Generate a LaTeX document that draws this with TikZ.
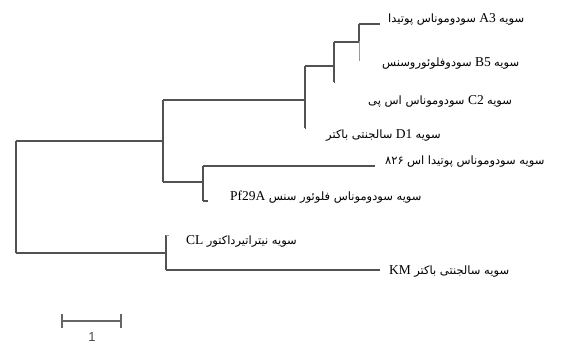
\documentclass[tikz,border=0pt]{standalone}
\usepackage{fontspec}
\setmainfont{Liberation Serif}
\setsansfont{Liberation Sans}
\newfontfamily\arabicfont[Script=Arabic]{DejaVu Sans}
\TeXXeTstate=1
\newcommand{\fa}[1]{{\arabicfont\fontsize{11.5}{13}\selectfont #1}}
\begin{document}
\begin{tikzpicture}[x=1pt,y=-1pt,
  br/.style={draw=black!68,line width=1.4pt},
  faint/.style={draw=black!40,line width=0.9pt},
  lbl/.style={anchor=west,inner sep=0pt,font=\fontsize{13.5}{15}\selectfont,text=black},
  sbar/.style={draw=black!60,line width=1.4pt}]
\useasboundingbox (0,0) rectangle (573,345);
% internal nodes
\coordinate (r1) at (16,141);   \coordinate (r2) at (16,253);
\coordinate (a1) at (163,100);  \coordinate (a2) at (163,182); \coordinate (am) at (163,141);
\coordinate (b1) at (305,66);   \coordinate (b2) at (305,128); \coordinate (bm) at (305,100);
\coordinate (c1) at (334,42);   \coordinate (c2) at (334,82);  \coordinate (cm) at (334,66);
\coordinate (d1) at (359,24);   \coordinate (d2) at (359,41);  \coordinate (d3) at (359,60); \coordinate (dm) at (359,42);
\coordinate (e1) at (203,166);  \coordinate (e2) at (203,201); \coordinate (em) at (203,182);
\coordinate (f1) at (166,235);  \coordinate (f2) at (166,270); \coordinate (fm) at (166,253);
% leaves
\coordinate (lA3) at (380,24);
\coordinate (lB5) at (360,60);
\coordinate (lC2) at (335,82);
\coordinate (lD1) at (306,128);
\coordinate (l826) at (375,166);
\coordinate (lPf) at (208,201);
\coordinate (lCL) at (169,235);
\coordinate (lKM) at (380,270);
% tree
\draw[br] (r1) -- (r2);
\draw[br] (r1) -- (am);
\draw[br] (r2) -- (fm);
\draw[br] (a1) -- (a2);
\draw[br] (a1) -- (bm);
\draw[br] (a2) -- (em);
\draw[br] (b1) -- (b2);
\draw[br] (b1) -- (cm);
\draw[br] (b2) -- (lD1);
\draw[br] (c1) -- (c2);
\draw[br] (c1) -- (dm);
\draw[br] (c2) -- (lC2);
\draw[br] (d1) -- (d2);
\draw[faint] (d2) -- (d3);
\draw[br] (d1) -- (lA3);
\draw[faint] (d3) -- (lB5);
\draw[br] (e1) -- (e2);
\draw[br] (e1) -- (l826);
\draw[br] (e2) -- (lPf);
\draw[br] (f1) -- (f2);
\draw[faint] (f1) -- (lCL);
\draw[br] (f2) -- (lKM);
% labels
\node[lbl] (tA3) at (388,19) {\beginR\fa{سویه} \beginL A3\endL{} \fa{سودوموناس پوتیدا}\endR};
\node[lbl] (tB5) at (382,63) {\beginR\fa{سویه} \beginL B5\endL{} \fa{سودوفلوئوروسنس}\endR};
\node[lbl] (tC2) at (368,101) {\beginR\fa{سویه} \beginL C2\endL{} \fa{سودوموناس اس پی}\endR};
\node[lbl] (tD1) at (326,135) {\beginR\fa{سویه} \beginL D1\endL{} \fa{سالجنتی باکتر}\endR};
\node[lbl] (t826) at (385,162) {\beginR\fa{سویه سودوموناس پوتیدا اس} \beginL\fa{۸۲۶}\endL\endR};
\node[lbl] (tPf) at (230,197) {\beginR\fa{سویه سودوموناس فلوئور سنس} \beginL Pf29A\endL\endR};
\node[lbl] (tCL) at (186,241) {\beginR\fa{سویه نیتراتیرداکتور} \beginL CL\endL\endR};
\node[lbl] (tKM) at (389,271) {\beginR\fa{سویه سالجنتی باکتر} \beginL KM\endL\endR};
% scale bar
\coordinate (s1) at (62,321); \coordinate (s2) at (121,321);
\draw[sbar] (s1) -- (s2);
\draw[sbar] ([yshift=-7pt]s1) -- ([yshift=7pt]s1);
\draw[sbar] ([yshift=-7pt]s2) -- ([yshift=7pt]s2);
\node[font=\sffamily\fontsize{13}{14}\selectfont,text=black!70,inner sep=0pt] (s) at (92,337) {1};
\end{tikzpicture}
\end{document}
